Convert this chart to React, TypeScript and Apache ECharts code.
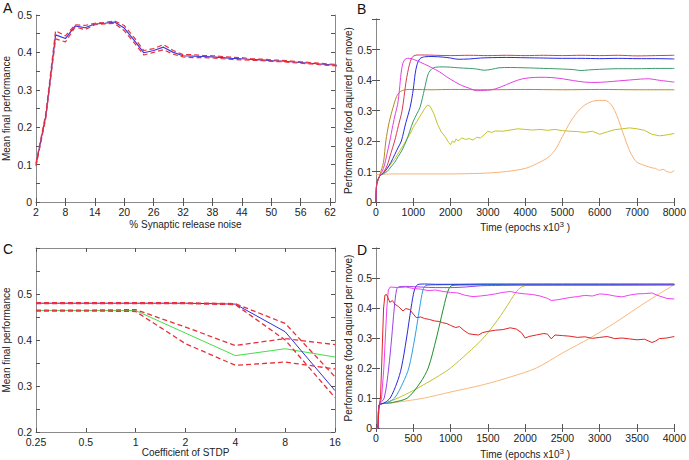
import React, { useEffect, useRef } from 'react';
import * as echarts from 'echarts';

const FONT = '"Liberation Sans", Arial, Helvetica, sans-serif';

// ---------- Panel A ----------
const aNoise = [2, 4, 6, 8, 10, 12, 14, 16, 18, 20, 22, 24, 26, 28, 30, 32, 34, 36, 38, 40, 42, 44, 46, 48, 50, 52, 54, 56, 58, 60, 62, 64];
const aMean = [0.1, 0.23, 0.447, 0.437, 0.471, 0.466, 0.476, 0.478, 0.481, 0.465, 0.433, 0.399, 0.405, 0.414, 0.4, 0.391, 0.39, 0.389, 0.388, 0.386, 0.384, 0.383, 0.381, 0.38, 0.378, 0.377, 0.375, 0.373, 0.371, 0.369, 0.367, 0.365];
const aUpper = [0.104, 0.236, 0.458, 0.444, 0.474, 0.472, 0.478, 0.48, 0.484, 0.472, 0.44, 0.405, 0.41, 0.421, 0.405, 0.394, 0.394, 0.392, 0.391, 0.389, 0.387, 0.386, 0.383, 0.382, 0.38, 0.379, 0.377, 0.375, 0.373, 0.371, 0.369, 0.367];
const aLower = [0.096, 0.224, 0.436, 0.428, 0.468, 0.461, 0.474, 0.476, 0.478, 0.458, 0.426, 0.393, 0.4, 0.407, 0.395, 0.388, 0.386, 0.386, 0.385, 0.383, 0.381, 0.38, 0.379, 0.378, 0.376, 0.375, 0.373, 0.371, 0.369, 0.367, 0.365, 0.363];
const aXTicks = [2, 8, 14, 20, 26, 32, 38, 44, 50, 56, 62];

// ---------- Panel B : [epoch, performance] ----------
const bRed = [[0, 0], [20, 0.06], [100, 0.085], [200, 0.097], [300, 0.12], [400, 0.16], [500, 0.2], [600, 0.25], [700, 0.3], [800, 0.39], [850, 0.425], [900, 0.452], [950, 0.47], [1000, 0.478], [1100, 0.482], [1300, 0.482], [1600, 0.481], [2000, 0.48], [2500, 0.481], [3000, 0.48], [3500, 0.481], [4000, 0.48], [4500, 0.481], [5000, 0.48], [5500, 0.481], [6000, 0.48], [6500, 0.481], [7000, 0.479], [7500, 0.48], [8000, 0.481]];
const bMagenta = [[0, 0], [20, 0.06], [100, 0.085], [200, 0.11], [300, 0.16], [370, 0.2], [450, 0.25], [520, 0.29], [580, 0.32], [630, 0.37], [670, 0.42], [720, 0.455], [780, 0.468], [850, 0.471], [950, 0.47], [1100, 0.463], [1300, 0.452], [1500, 0.44], [1700, 0.427], [1900, 0.41], [2100, 0.395], [2300, 0.382], [2500, 0.373], [2700, 0.365], [2900, 0.366], [3100, 0.368], [3300, 0.375], [3500, 0.385], [3700, 0.395], [3900, 0.403], [4100, 0.407], [4400, 0.409], [4700, 0.408], [5000, 0.404], [5300, 0.398], [5600, 0.393], [5900, 0.392], [6200, 0.394], [6500, 0.397], [6800, 0.4], [7100, 0.403], [7300, 0.404], [7600, 0.399], [8000, 0.393]];
const bBlue = [[0, 0], [20, 0.06], [100, 0.085], [200, 0.095], [300, 0.11], [400, 0.13], [500, 0.155], [600, 0.18], [680, 0.2], [800, 0.26], [915, 0.31], [1000, 0.37], [1050, 0.42], [1100, 0.45], [1180, 0.47], [1300, 0.476], [1500, 0.477], [1800, 0.475], [2000, 0.472], [2200, 0.468], [2500, 0.469], [2800, 0.472], [3000, 0.473], [3500, 0.474], [4000, 0.473], [4500, 0.472], [5000, 0.471], [5500, 0.471], [6000, 0.47], [6500, 0.471], [7000, 0.47], [7500, 0.47], [8000, 0.469]];
const bGreen = [[0, 0], [20, 0.06], [100, 0.085], [200, 0.093], [300, 0.1], [400, 0.115], [500, 0.13], [600, 0.15], [700, 0.17], [810, 0.2], [900, 0.23], [1000, 0.265], [1100, 0.29], [1180, 0.31], [1300, 0.37], [1400, 0.42], [1500, 0.437], [1600, 0.442], [1800, 0.443], [2000, 0.442], [2200, 0.44], [2500, 0.438], [2700, 0.436], [2900, 0.432], [3100, 0.435], [3300, 0.44], [3600, 0.441], [4000, 0.44], [4500, 0.438], [5000, 0.436], [5300, 0.434], [5500, 0.431], [5700, 0.433], [6000, 0.435], [6500, 0.437], [7000, 0.437], [7500, 0.438], [8000, 0.438]];
const bOlive = [[0, 0], [20, 0.06], [100, 0.088], [200, 0.13], [264, 0.2], [350, 0.26], [457, 0.31], [550, 0.345], [650, 0.362], [780, 0.368], [1000, 0.369], [1500, 0.368], [2000, 0.369], [3000, 0.368], [4000, 0.369], [5000, 0.368], [6000, 0.369], [7000, 0.368], [8000, 0.368]];
const bYellow = [[0, 0], [20, 0.06], [100, 0.085], [200, 0.095], [300, 0.11], [400, 0.125], [500, 0.14], [600, 0.16], [700, 0.18], [800, 0.2], [900, 0.22], [1000, 0.245], [1100, 0.265], [1200, 0.285], [1300, 0.305], [1380, 0.318], [1450, 0.314], [1550, 0.29], [1650, 0.255], [1750, 0.23], [1850, 0.215], [1950, 0.195], [2000, 0.188], [2050, 0.2], [2100, 0.195], [2150, 0.207], [2200, 0.2], [2300, 0.21], [2400, 0.205], [2500, 0.208], [2600, 0.203], [2700, 0.212], [2800, 0.21], [2900, 0.22], [3000, 0.232], [3100, 0.228], [3200, 0.233], [3400, 0.232], [3600, 0.236], [3800, 0.24], [4000, 0.238], [4200, 0.236], [4400, 0.238], [4600, 0.235], [4800, 0.238], [5000, 0.234], [5200, 0.232], [5400, 0.231], [5600, 0.228], [5800, 0.232], [6000, 0.222], [6200, 0.23], [6400, 0.237], [6600, 0.24], [6800, 0.243], [7000, 0.24], [7200, 0.235], [7400, 0.222], [7600, 0.217], [7800, 0.22], [8000, 0.225]];
const bOrange = [[0, 0.09], [500, 0.092], [1000, 0.092], [1500, 0.092], [2000, 0.092], [2500, 0.093], [3000, 0.095], [3500, 0.1], [4000, 0.11], [4300, 0.125], [4600, 0.145], [4800, 0.17], [5000, 0.215], [5200, 0.26], [5400, 0.295], [5600, 0.318], [5800, 0.33], [6000, 0.333], [6150, 0.333], [6300, 0.32], [6400, 0.3], [6500, 0.27], [6600, 0.235], [6700, 0.2], [6800, 0.168], [6900, 0.145], [7000, 0.13], [7200, 0.12], [7400, 0.112], [7500, 0.11], [7600, 0.104], [7700, 0.107], [7800, 0.1], [7900, 0.097], [8000, 0.103]];

// ---------- Panel C ----------
const cCoeff = ['0.25', '0.5', '1', '2', '4', '8', '16'];
const cBlue = [0.48, 0.48, 0.48, 0.48, 0.478, 0.418, 0.29];
const cBlueUp = [0.481, 0.481, 0.481, 0.481, 0.479, 0.436, 0.32];
const cBlueLo = [0.479, 0.479, 0.479, 0.479, 0.477, 0.4, 0.275];
const cGreen = [0.464, 0.464, 0.464, 0.415, 0.366, 0.381, 0.363];
const cGreenUp = [0.465, 0.465, 0.466, 0.428, 0.388, 0.403, 0.39];
const cGreenLo = [0.463, 0.463, 0.462, 0.392, 0.345, 0.352, 0.337];

// ---------- Panel D : [epoch, performance] ----------
const dRed = [[0, 0], [25, 0], [40, 0.07], [60, 0.1], [75, 0.2], [88, 0.3], [102, 0.4], [120, 0.443], [140, 0.445], [160, 0.435], [185, 0.419], [220, 0.425], [252, 0.413], [300, 0.405], [362, 0.39], [400, 0.398], [450, 0.395], [500, 0.38], [540, 0.368], [600, 0.37], [650, 0.365], [715, 0.362], [780, 0.357], [850, 0.355], [892, 0.351], [950, 0.348], [1000, 0.342], [1068, 0.335], [1120, 0.338], [1180, 0.325], [1245, 0.314], [1300, 0.312], [1377, 0.31], [1430, 0.318], [1500, 0.322], [1600, 0.326], [1700, 0.328], [1800, 0.334], [1880, 0.33], [1950, 0.318], [2000, 0.3], [2050, 0.305], [2150, 0.31], [2250, 0.315], [2300, 0.313], [2350, 0.297], [2400, 0.31], [2500, 0.308], [2600, 0.306], [2700, 0.302], [2800, 0.304], [2900, 0.299], [3000, 0.302], [3100, 0.305], [3200, 0.298], [3300, 0.3], [3400, 0.297], [3500, 0.294], [3600, 0.296], [3700, 0.285], [3750, 0.29], [3800, 0.298], [3900, 0.3], [4000, 0.305]];
const dMagenta = [[0, 0], [25, 0], [40, 0.07], [75, 0.1], [105, 0.2], [125, 0.3], [145, 0.4], [165, 0.46], [190, 0.47], [300, 0.468], [400, 0.47], [500, 0.465], [600, 0.463], [700, 0.458], [800, 0.46], [900, 0.455], [1000, 0.452], [1100, 0.45], [1200, 0.442], [1300, 0.438], [1400, 0.44], [1500, 0.443], [1600, 0.447], [1700, 0.452], [1800, 0.455], [1900, 0.45], [2000, 0.447], [2100, 0.445], [2200, 0.44], [2300, 0.432], [2350, 0.425], [2450, 0.428], [2600, 0.435], [2700, 0.438], [2800, 0.442], [2900, 0.44], [3000, 0.447], [3100, 0.445], [3200, 0.44], [3300, 0.437], [3400, 0.443], [3500, 0.447], [3600, 0.448], [3700, 0.45], [3800, 0.44], [3900, 0.432], [4000, 0.43]];
const dViolet = [[0, 0], [25, 0], [40, 0.075], [110, 0.1], [170, 0.2], [210, 0.3], [245, 0.4], [275, 0.46], [300, 0.47], [400, 0.472], [600, 0.47], [800, 0.468], [1000, 0.468], [1200, 0.47], [1400, 0.474], [1600, 0.475], [2000, 0.476], [3000, 0.476], [4000, 0.477]];
const dBlue = [[0, 0], [25, 0], [40, 0.075], [120, 0.085], [190, 0.1], [280, 0.15], [340, 0.2], [410, 0.3], [470, 0.4], [515, 0.46], [560, 0.478], [650, 0.48], [800, 0.479], [1000, 0.479], [1500, 0.48], [2000, 0.48], [2500, 0.48], [3000, 0.48], [3500, 0.48], [4000, 0.48]];
const dCyan = [[0, 0], [25, 0], [40, 0.075], [150, 0.085], [250, 0.1], [360, 0.15], [440, 0.2], [520, 0.3], [585, 0.4], [630, 0.46], [670, 0.475], [800, 0.477], [1200, 0.478], [2000, 0.478], [3000, 0.478], [4000, 0.478]];
const dGreen = [[0, 0], [25, 0], [40, 0.075], [220, 0.085], [420, 0.1], [590, 0.15], [700, 0.2], [810, 0.3], [905, 0.4], [970, 0.46], [1020, 0.475], [1200, 0.477], [2000, 0.478], [3000, 0.478], [4000, 0.478]];
const dYellow = [[0, 0], [25, 0], [40, 0.075], [150, 0.085], [295, 0.1], [500, 0.125], [680, 0.15], [850, 0.175], [1000, 0.2], [1230, 0.25], [1440, 0.3], [1600, 0.35], [1740, 0.4], [1870, 0.45], [1950, 0.47], [2050, 0.476], [3000, 0.477], [4000, 0.477]];
const dOrange = [[0, 0], [25, 0], [40, 0.075], [200, 0.083], [400, 0.09], [650, 0.1], [1000, 0.12], [1450, 0.145], [1800, 0.17], [2150, 0.2], [2500, 0.25], [2870, 0.3], [3200, 0.35], [3500, 0.4], [3750, 0.44], [3950, 0.47], [4000, 0.478]];

const grids = [
  { left: 35, top: 15, width: 300, height: 187 },
  { left: 376, top: 19, width: 303, height: 183 },
  { left: 35, top: 248, width: 300, height: 184 },
  { left: 376, top: 248, width: 302, height: 184 },
];

const frameLine = { show: true, lineStyle: { color: '#8a8a8a', width: 1 } };
const tickStyle = { show: true, inside: true, length: 4, lineStyle: { color: '#555', width: 1 } };
const labelStyle = { color: '#222', fontSize: 10.5, fontFamily: FONT, margin: 4 };
const nameStyle = {
  color: '#222', fontSize: 10, fontFamily: FONT,
  rich: { sup: { color: '#222', fontSize: 8, fontFamily: FONT, verticalAlign: 'bottom', padding: [0, 0, 6, 0] } },
};

function mirror(base: any, position: string) {
  return { ...base, position, name: '', axisLabel: { show: false } };
}

function hideMaxFmt(max: number, dec: number) {
  return (v: number) => (Math.abs(v - max) < 1e-9 ? '' : v === 0 ? '0' : v.toFixed(dec));
}

function line(data: any, color: string, xi: number, yi: number, width = 1, dashed = false, smooth = false) {
  return {
    type: 'line',
    data,
    xAxisIndex: xi,
    yAxisIndex: yi,
    showSymbol: false,
    symbol: 'none',
    silent: true,
    smooth: smooth ? 0.3 : false,
    lineStyle: { color, width, type: dashed ? [5, 3] : 'solid' },
  };
}

export default function App() {
  const ref = useRef<HTMLDivElement>(null);
  useEffect(() => {
    if (!ref.current) return;
    const chart = echarts.init(ref.current, undefined, { renderer: 'svg' });
    const plain = (v: number) => String(v);

    const axA = {
      type: 'value', gridIndex: 0, min: 2, max: 63,
      axisLine: frameLine, splitLine: { show: false },
      axisTick: { ...tickStyle, customValues: aXTicks },
      axisLabel: { ...labelStyle, customValues: aXTicks, formatter: plain },
      name: '% Synaptic release noise', nameLocation: 'middle', nameGap: 17, nameTextStyle: nameStyle,
    };
    const axB = {
      type: 'value', gridIndex: 1, min: 0, max: 8000, interval: 1000,
      axisLine: frameLine, splitLine: { show: false }, axisTick: tickStyle,
      axisLabel: { ...labelStyle, formatter: plain },
      name: 'Time (epochs x10{sup|3} )', nameLocation: 'middle', nameGap: 18, nameTextStyle: nameStyle,
    };
    const axC = {
      type: 'category', gridIndex: 2, data: cCoeff, boundaryGap: false,
      axisLine: frameLine, splitLine: { show: false },
      axisTick: { ...tickStyle, alignWithLabel: true },
      axisLabel: { ...labelStyle, interval: 0 },
      name: 'Coefficient of STDP', nameLocation: 'middle', nameGap: 15, nameTextStyle: nameStyle,
    };
    const axD = {
      type: 'value', gridIndex: 3, min: 0, max: 4000, interval: 500,
      axisLine: frameLine, splitLine: { show: false }, axisTick: tickStyle,
      axisLabel: { ...labelStyle, formatter: plain },
      name: 'Time (epochs x10{sup|3} )', nameLocation: 'middle', nameGap: 19, nameTextStyle: nameStyle,
    };
    const ayA = {
      type: 'value', gridIndex: 0, min: 0, max: 0.5, interval: 0.05,
      axisLine: frameLine, splitLine: { show: false }, axisTick: tickStyle,
      axisLabel: {
        ...labelStyle,
        formatter: (v: number) => {
          const k = Math.round(v * 20);
          return k % 2 === 0 ? (k === 0 ? '0' : (k / 20).toFixed(1)) : '';
        },
      },
      name: 'Mean final performance', nameLocation: 'middle', nameGap: 25, nameTextStyle: nameStyle,
    };
    const ayB = {
      type: 'value', gridIndex: 1, min: 0, max: 0.6, interval: 0.1,
      axisLine: frameLine, splitLine: { show: false }, axisTick: tickStyle,
      axisLabel: { ...labelStyle, formatter: hideMaxFmt(0.6, 1) },
      name: 'Performance (food aquired per move)', nameLocation: 'middle', nameGap: 22, nameTextStyle: nameStyle,
    };
    const ayC = {
      type: 'value', gridIndex: 2, min: 0.2, max: 0.6, interval: 0.05,
      axisLine: frameLine, splitLine: { show: false }, axisTick: tickStyle,
      axisLabel: {
        ...labelStyle,
        formatter: (v: number) => {
          const k = Math.round(v * 20);
          return k % 2 === 0 && k !== 12 ? (k / 20).toFixed(1) : '';
        },
      },
      name: 'Mean final performance', nameLocation: 'middle', nameGap: 25, nameTextStyle: nameStyle,
    };
    const ayD = {
      type: 'value', gridIndex: 3, min: 0, max: 0.6, interval: 0.1,
      axisLine: frameLine, splitLine: { show: false }, axisTick: tickStyle,
      axisLabel: { ...labelStyle, formatter: hideMaxFmt(0.6, 1) },
      name: 'Performance (food aquired per move)', nameLocation: 'middle', nameGap: 22, nameTextStyle: nameStyle,
    };

    const xAxes = [axA, mirror(axA, 'top'), axB, mirror(axB, 'top'), axC, mirror(axC, 'top'), axD, mirror(axD, 'top')];
    const yAxes = [ayA, mirror(ayA, 'right'), ayB, mirror(ayB, 'right'), ayC, mirror(ayC, 'right'), ayD, mirror(ayD, 'right')];

    const zip = (xs: number[], ys: number[]) => xs.map((x, i) => [x, ys[i]]);
    const RED = '#e8303c';

    const series: any[] = [
      line(zip(aNoise, aMean), '#3a3ae0', 0, 0, 1.2),
      line(zip(aNoise, aUpper), RED, 0, 0, 1.2, true),
      line(zip(aNoise, aLower), RED, 0, 0, 1.2, true),

      line(bOrange, '#f6b27a', 2, 2, 1, false, true),
      line(bYellow, '#c4c428', 2, 2),
      line(bOlive, '#b58a1e', 2, 2, 1, false, true),
      line(bGreen, '#3c9a6c', 2, 2, 1, false, true),
      line(bBlue, '#2a2ae0', 2, 2, 1, false, true),
      line(bMagenta, '#e040e0', 2, 2, 1, false, true),
      line(bRed, '#d83c50', 2, 2, 1, false, true),

      line(cGreen, '#44dd44', 4, 4),
      line(cBlue, '#3030d8', 4, 4),
      line(cGreenUp, RED, 4, 4, 1.3, true),
      line(cGreenLo, RED, 4, 4, 1.3, true),
      line(cBlueUp, RED, 4, 4, 1.3, true),
      line(cBlueLo, RED, 4, 4, 1.3, true),

      line(dOrange, '#f8b87c', 6, 6, 1, false, true),
      line(dYellow, '#c2c232', 6, 6, 1, false, true),
      line(dGreen, '#1f8f2a', 6, 6, 1, false, true),
      line(dCyan, '#2f9fe0', 6, 6, 1, false, true),
      line(dBlue, '#2a2ad8', 6, 6, 1, false, true),
      line(dViolet, '#9a44e4', 6, 6, 1, false, true),
      line(dMagenta, '#f040f0', 6, 6),
      line(dRed, '#e02424', 6, 6),
    ];

    const letter = (t: string, left: number, top: number) => ({
      type: 'text', left, top, silent: true,
      style: { text: t, fontSize: 14, fontFamily: FONT, fill: '#111' },
    });

    chart.setOption({
      animation: false,
      backgroundColor: '#ffffff',
      grid: grids.map((g) => ({ ...g, show: false, containLabel: false })),
      xAxis: xAxes,
      yAxis: yAxes,
      series,
      graphic: [letter('A', 3, 1), letter('B', 357, 2), letter('C', 3, 242), letter('D', 357, 243)],
    });
    return () => chart.dispose();
  }, []);
  return <div ref={ref} style={{ position: 'fixed', left: 0, top: 0, width: 689, height: 460, background: '#fff' }} />;
}
